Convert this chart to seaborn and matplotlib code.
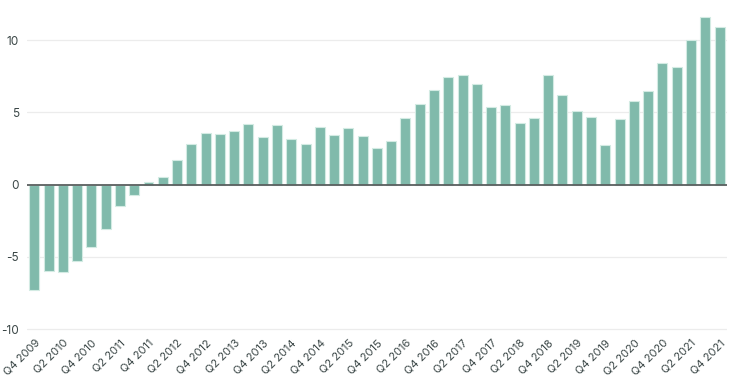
import matplotlib
matplotlib.use("Agg")
import matplotlib.pyplot as plt
import seaborn as sns
import pandas as pd

quarters = ["Q4 2009"] + [f"Q{q} {y}" for y in range(2010, 2022) for q in range(1, 5)]
values = [-7.3, -6.0, -6.05, -5.3, -4.3, -3.1, -1.5, -0.74, 0.18, 0.55,
          1.68, 2.81, 3.55, 3.53, 3.69, 4.19, 3.27, 4.10, 3.18, 2.79,
          4.01, 3.43, 3.94, 3.39, 2.53, 3.00, 4.63, 5.58, 6.54, 7.42,
          7.58, 7.00, 5.37, 5.55, 4.24, 4.65, 7.56, 6.24, 5.07, 4.72,
          2.72, 4.56, 5.76, 6.50, 8.43, 8.18, 10.0, 11.59, 10.94]
yticks = [-10, -5, 0, 5, 10]

df = pd.DataFrame({"quarter": quarters, "value": values})

sns.set_theme(style="white")
plt.rcParams["font.family"] = ["Inter", "DejaVu Sans"]

fig = plt.figure(figsize=(7.34, 3.90), dpi=100)
ax = fig.add_axes([0.037, 0.1485, 0.953, 0.841])

sns.barplot(data=df, x="quarter", y="value", color="#80baab", saturation=1,
            width=0.7, edgecolor="#d3ebe3", linewidth=0.8, ax=ax, zorder=2)

ax.set_ylim(-10.2, 12.5)
ax.set_xlim(-0.5, len(quarters) - 0.5)
ax.set_yticks(yticks)
ax.set_yticklabels([str(v) for v in yticks])
for v in yticks:
    if v != 0:
        ax.axhline(v, color="#ececec", linewidth=0.9, zorder=0)
ax.axhline(0, color="#5a5f5f", linewidth=1.3, zorder=3)

ax.set_xticks(range(0, len(quarters), 2))
ax.set_xticklabels(quarters[::2], rotation=45, ha="right", rotation_mode="anchor")
ax.tick_params(axis="x", length=0, pad=4, labelsize=8, labelcolor="#3b4747")
ax.tick_params(axis="y", length=0, pad=6, labelsize=8.5, labelcolor="#3b4747")
ax.set_xlabel("")
ax.set_ylabel("")
for s in ax.spines.values():
    s.set_visible(False)

fig.savefig("out.png", dpi=100)
